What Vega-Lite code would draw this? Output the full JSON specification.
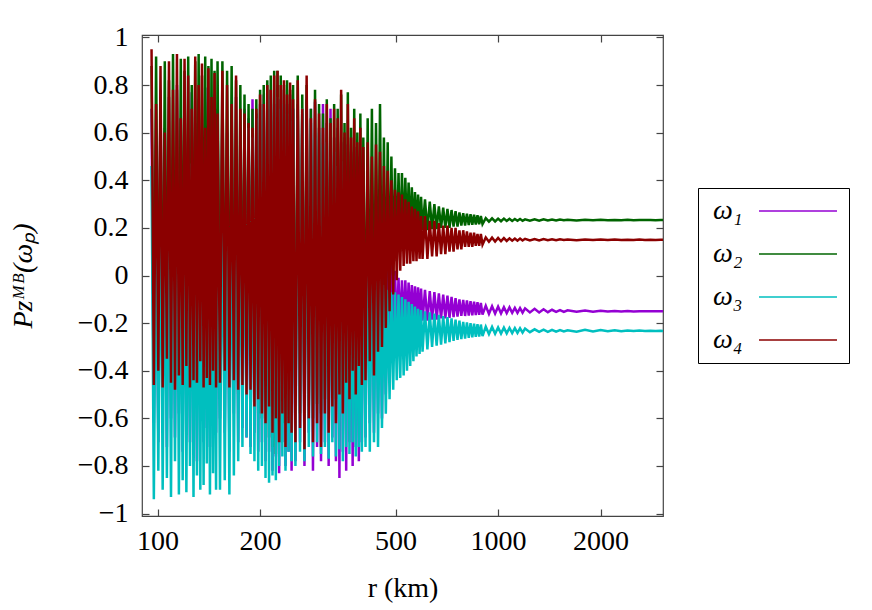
{
"$schema": "https://vega.github.io/schema/vega-lite/v6.json",
"width": 521, "height": 481,
"autosize": {"type": "none"},
"padding": {"left": 142, "top": 35, "right": 209, "bottom": 94},
"background": "white",
"config": {
  "font": "Liberation Serif",
  "view": {"stroke": "#444", "strokeWidth": 1.2},
  "axis": {"grid": false, "domain": false, "labelFont": "Liberation Serif", "labelFontSize": 28, "labelColor": "black", "tickColor": "#444", "tickWidth": 1.2, "titleFont": "Liberation Serif", "titleFontSize": 28, "titleFontWeight": "normal", "titleColor": "black"}
},
"datasets": {
"w1": [
{"r":96,"p":0.70},{"r":97.5,"p":-0.62},{"r":99,"p":0.55},{"r":100.5,"p":-0.70},{"r":102,"p":0.78},{"r":103.5,"p":-0.55},{"r":105,"p":0.62},{"r":106.5,"p":-0.72},{"r":108,"p":0.75},{"r":109.5,"p":-0.60},{"r":111,"p":0.50},{"r":112.5,"p":-0.68},{"r":114,"p":0.80},{"r":115.5,"p":-0.58},{"r":117,"p":0.66},{"r":118.5,"p":-0.74},{"r":120,"p":0.72},{"r":121.5,"p":-0.62},{"r":123,"p":0.58},{"r":124.5,"p":-0.70},{"r":126,"p":0.77},{"r":127.5,"p":-0.56},{"r":129,"p":0.64},{"r":130.5,"p":-0.78},{"r":132,"p":0.74},{"r":133.5,"p":-0.60},{"r":135,"p":0.55},{"r":136.5,"p":-0.70},{"r":138,"p":0.79},{"r":139.5,"p":-0.64},{"r":141,"p":0.68},{"r":142.5,"p":-0.72},{"r":144,"p":0.60},{"r":145.5,"p":-0.58},{"r":147,"p":0.76},{"r":148.5,"p":-0.66},{"r":150,"p":0.70},
{"r":152.5,"p":-0.60},{"r":155,"p":0.72},{"r":157.5,"p":-0.66},{"r":160,"p":0.60},{"r":162.5,"p":-0.74},{"r":165,"p":0.68},{"r":167.5,"p":-0.58},{"r":170,"p":0.75},{"r":172.5,"p":-0.70},{"r":175,"p":0.62},{"r":177.5,"p":-0.64},{"r":180,"p":0.70},{"r":182.5,"p":-0.68},{"r":185,"p":0.66},{"r":187.5,"p":-0.72},{"r":190,"p":0.74},{"r":192.5,"p":-0.66},{"r":195,"p":0.68},{"r":197.5,"p":-0.74},{"r":200,"p":0.72},{"r":202.5,"p":-0.70},{"r":205,"p":0.76},{"r":207.5,"p":-0.78},{"r":210,"p":0.70},{"r":212.5,"p":-0.74},{"r":215,"p":0.78},{"r":217.5,"p":-0.82},{"r":220,"p":0.72},{"r":222.5,"p":-0.76},{"r":225,"p":0.80},{"r":227.5,"p":-0.83},{"r":230,"p":0.74},{"r":232.5,"p":-0.70},{"r":235,"p":0.78},{"r":237.5,"p":-0.80},{"r":240,"p":0.72},{"r":242.5,"p":-0.74},{"r":245,"p":0.76},{"r":247.5,"p":-0.82},{"r":250,"p":0.70},
{"r":254,"p":-0.78},{"r":258,"p":0.72},{"r":262,"p":-0.70},{"r":266,"p":0.68},{"r":270,"p":-0.80},{"r":274,"p":0.74},{"r":278,"p":-0.66},{"r":282,"p":0.70},{"r":286,"p":-0.82},{"r":290,"p":0.73},{"r":294,"p":-0.72},{"r":298,"p":0.62},{"r":302,"p":-0.78},{"r":306,"p":0.72},{"r":310,"p":-0.70},{"r":314,"p":0.64},{"r":318,"p":-0.80},{"r":322,"p":0.70},{"r":326,"p":-0.68},{"r":330,"p":0.58},{"r":334,"p":-0.78},{"r":338,"p":0.62},{"r":342,"p":-0.85},{"r":346,"p":0.56},{"r":350,"p":-0.74},{"r":354,"p":0.58},{"r":358,"p":-0.82},{"r":362,"p":0.55},{"r":366,"p":-0.70},{"r":370,"p":0.52},{"r":374,"p":-0.80},{"r":378,"p":0.54},{"r":382,"p":-0.72},{"r":386,"p":0.50},{"r":390,"p":-0.78},{"r":394,"p":0.46},{"r":398,"p":-0.70},{"r":402,"p":0.45},
{"r":408,"p":-0.68},{"r":414,"p":0.40},{"r":420,"p":-0.62},{"r":426,"p":0.34},{"r":432,"p":-0.66},{"r":438,"p":0.32},{"r":444,"p":-0.58},{"r":450,"p":0.28},{"r":456,"p":-0.60},{"r":462,"p":0.25},{"r":468,"p":-0.50},{"r":474,"p":0.20},{"r":480,"p":-0.40},{"r":486,"p":0.10},{"r":492,"p":-0.28},{"r":498,"p":0.02},{"r":504,"p":-0.25},{"r":510,"p":-0.01},{"r":516,"p":-0.23},{"r":522,"p":-0.02},{"r":528,"p":-0.22},{"r":534,"p":-0.02},{"r":540,"p":-0.21},{"r":546,"p":-0.03},{"r":552,"p":-0.20},{"r":558,"p":-0.04},{"r":564,"p":-0.20},{"r":570,"p":-0.045},{"r":576,"p":-0.195},{"r":582,"p":-0.05},{"r":588,"p":-0.19},{"r":594,"p":-0.055},{"r":600,"p":-0.19},
{"r":610,"p":-0.06},{"r":620,"p":-0.19},{"r":630,"p":-0.065},{"r":640,"p":-0.185},{"r":650,"p":-0.07},{"r":660,"p":-0.185},{"r":670,"p":-0.075},{"r":680,"p":-0.18},{"r":690,"p":-0.08},{"r":700,"p":-0.18},{"r":710,"p":-0.085},{"r":720,"p":-0.178},{"r":730,"p":-0.09},{"r":740,"p":-0.175},{"r":750,"p":-0.095},{"r":760,"p":-0.173},{"r":770,"p":-0.10},{"r":780,"p":-0.17},{"r":790,"p":-0.102},{"r":800,"p":-0.17},{"r":810,"p":-0.105},{"r":820,"p":-0.168},{"r":830,"p":-0.108},{"r":840,"p":-0.167},{"r":850,"p":-0.11},{"r":860,"p":-0.166},{"r":870,"p":-0.112},{"r":880,"p":-0.165},{"r":890,"p":-0.115},{"r":900,"p":-0.164},
{"r":920,"p":-0.127},{"r":940,"p":-0.161},{"r":960,"p":-0.129},{"r":980,"p":-0.16},{"r":1000,"p":-0.131},{"r":1020,"p":-0.159},{"r":1040,"p":-0.133},{"r":1060,"p":-0.158},{"r":1080,"p":-0.134},{"r":1100,"p":-0.157},{"r":1120,"p":-0.136},{"r":1140,"p":-0.157},{"r":1160,"p":-0.137},{"r":1180,"p":-0.156},{"r":1200,"p":-0.138},
{"r":1240,"p":-0.155},{"r":1280,"p":-0.14},{"r":1320,"p":-0.155},{"r":1360,"p":-0.142},{"r":1400,"p":-0.154},{"r":1440,"p":-0.144},{"r":1480,"p":-0.153},{"r":1520,"p":-0.145},{"r":1560,"p":-0.153},{"r":1600,"p":-0.146},
{"r":1700,"p":-0.152},{"r":1800,"p":-0.147},{"r":1900,"p":-0.152},{"r":2000,"p":-0.148},{"r":2100,"p":-0.151},{"r":2200,"p":-0.149},{"r":2300,"p":-0.151},{"r":2400,"p":-0.149},{"r":2500,"p":-0.151},{"r":2600,"p":-0.15},{"r":2700,"p":-0.15},{"r":2800,"p":-0.15},{"r":2900,"p":-0.15},{"r":3000,"p":-0.15},{"r":3050,"p":-0.15}
],
"w2": [
{"r":96,"p":0.88},{"r":97.5,"p":-0.44},{"r":99,"p":0.92},{"r":100.5,"p":-0.40},{"r":102,"p":0.75},{"r":103.5,"p":-0.46},{"r":105,"p":0.90},{"r":106.5,"p":-0.38},{"r":108,"p":0.82},{"r":109.5,"p":-0.45},{"r":111,"p":0.93},{"r":112.5,"p":-0.42},{"r":114,"p":0.78},{"r":115.5,"p":-0.47},{"r":117,"p":0.91},{"r":118.5,"p":-0.40},{"r":120,"p":0.86},{"r":121.5,"p":-0.45},{"r":123,"p":0.92},{"r":124.5,"p":-0.43},{"r":126,"p":0.80},{"r":127.5,"p":-0.46},{"r":129,"p":0.90},{"r":130.5,"p":-0.41},{"r":132,"p":0.93},{"r":133.5,"p":-0.47},{"r":135,"p":0.84},{"r":136.5,"p":-0.44},{"r":138,"p":0.92},{"r":139.5,"p":-0.40},{"r":141,"p":0.88},{"r":142.5,"p":-0.46},{"r":144,"p":0.91},{"r":145.5,"p":-0.42},{"r":147,"p":0.86},{"r":148.5,"p":-0.45},{"r":150,"p":0.90},
{"r":152.5,"p":-0.46},{"r":155,"p":0.90},{"r":157.5,"p":-0.42},{"r":160,"p":0.86},{"r":162.5,"p":-0.48},{"r":165,"p":0.88},{"r":167.5,"p":-0.45},{"r":170,"p":0.82},{"r":172.5,"p":-0.50},{"r":175,"p":0.80},{"r":177.5,"p":-0.47},{"r":180,"p":0.76},{"r":182.5,"p":-0.52},{"r":185,"p":0.72},{"r":187.5,"p":-0.50},{"r":190,"p":0.70},{"r":192.5,"p":-0.56},{"r":195,"p":0.74},{"r":197.5,"p":-0.58},{"r":200,"p":0.78},{"r":202.5,"p":-0.60},{"r":205,"p":0.80},{"r":207.5,"p":-0.64},{"r":210,"p":0.82},{"r":212.5,"p":-0.68},{"r":215,"p":0.84},{"r":217.5,"p":-0.72},{"r":220,"p":0.86},{"r":222.5,"p":-0.75},{"r":225,"p":0.86},{"r":227.5,"p":-0.70},{"r":230,"p":0.84},{"r":232.5,"p":-0.62},{"r":235,"p":0.80},{"r":237.5,"p":-0.66},{"r":240,"p":0.82},{"r":242.5,"p":-0.60},{"r":245,"p":0.78},{"r":247.5,"p":-0.64},{"r":250,"p":0.80},
{"r":254,"p":-0.62},{"r":258,"p":0.84},{"r":262,"p":-0.58},{"r":266,"p":0.76},{"r":270,"p":-0.64},{"r":274,"p":0.80},{"r":278,"p":-0.55},{"r":282,"p":0.70},{"r":286,"p":-0.60},{"r":290,"p":0.78},{"r":294,"p":-0.54},{"r":298,"p":0.72},{"r":302,"p":-0.58},{"r":306,"p":0.68},{"r":310,"p":-0.52},{"r":314,"p":0.74},{"r":318,"p":-0.56},{"r":322,"p":0.66},{"r":326,"p":-0.50},{"r":330,"p":0.72},{"r":334,"p":-0.52},{"r":338,"p":0.70},{"r":342,"p":-0.46},{"r":346,"p":0.76},{"r":350,"p":-0.50},{"r":354,"p":0.64},{"r":358,"p":-0.42},{"r":362,"p":0.77},{"r":366,"p":-0.46},{"r":370,"p":0.62},{"r":374,"p":-0.38},{"r":378,"p":0.70},{"r":382,"p":-0.44},{"r":386,"p":0.60},{"r":390,"p":-0.35},{"r":394,"p":0.68},{"r":398,"p":-0.40},{"r":402,"p":0.58},
{"r":408,"p":-0.38},{"r":414,"p":0.66},{"r":420,"p":-0.32},{"r":426,"p":0.70},{"r":432,"p":-0.30},{"r":438,"p":0.64},{"r":444,"p":-0.26},{"r":450,"p":0.72},{"r":456,"p":-0.22},{"r":462,"p":0.58},{"r":468,"p":-0.15},{"r":474,"p":0.56},{"r":480,"p":-0.08},{"r":486,"p":0.50},{"r":492,"p":0.0},{"r":498,"p":0.45},{"r":504,"p":0.06},{"r":510,"p":0.43},{"r":516,"p":0.10},{"r":522,"p":0.43},{"r":528,"p":0.13},{"r":534,"p":0.41},{"r":540,"p":0.15},{"r":546,"p":0.39},{"r":552,"p":0.16},{"r":558,"p":0.37},{"r":564,"p":0.17},{"r":570,"p":0.35},{"r":576,"p":0.18},{"r":582,"p":0.34},{"r":588,"p":0.18},{"r":594,"p":0.33},{"r":600,"p":0.19},
{"r":610,"p":0.32},{"r":620,"p":0.19},{"r":630,"p":0.31},{"r":640,"p":0.195},{"r":650,"p":0.30},{"r":660,"p":0.195},{"r":670,"p":0.29},{"r":680,"p":0.20},{"r":690,"p":0.285},{"r":700,"p":0.20},{"r":710,"p":0.28},{"r":720,"p":0.20},{"r":730,"p":0.275},{"r":740,"p":0.205},{"r":750,"p":0.27},{"r":760,"p":0.205},{"r":770,"p":0.265},{"r":780,"p":0.21},{"r":790,"p":0.262},{"r":800,"p":0.21},{"r":810,"p":0.26},{"r":820,"p":0.212},{"r":830,"p":0.257},{"r":840,"p":0.213},{"r":850,"p":0.255},{"r":860,"p":0.214},{"r":870,"p":0.253},{"r":880,"p":0.215},{"r":890,"p":0.25},{"r":900,"p":0.216},
{"r":920,"p":0.241},{"r":940,"p":0.226},{"r":960,"p":0.24},{"r":980,"p":0.227},{"r":1000,"p":0.239},{"r":1020,"p":0.228},{"r":1040,"p":0.239},{"r":1060,"p":0.229},{"r":1080,"p":0.238},{"r":1100,"p":0.229},{"r":1120,"p":0.237},{"r":1140,"p":0.23},{"r":1160,"p":0.237},{"r":1180,"p":0.23},{"r":1200,"p":0.236},
{"r":1240,"p":0.23},{"r":1280,"p":0.236},{"r":1320,"p":0.23},{"r":1360,"p":0.236},{"r":1400,"p":0.231},{"r":1440,"p":0.235},{"r":1480,"p":0.231},{"r":1520,"p":0.235},{"r":1560,"p":0.232},{"r":1600,"p":0.234},
{"r":1700,"p":0.231},{"r":1800,"p":0.234},{"r":1900,"p":0.232},{"r":2000,"p":0.234},{"r":2100,"p":0.232},{"r":2200,"p":0.233},{"r":2300,"p":0.232},{"r":2400,"p":0.234},{"r":2500,"p":0.232},{"r":2600,"p":0.233},{"r":2700,"p":0.233},{"r":2800,"p":0.233},{"r":2900,"p":0.232},{"r":3000,"p":0.233},{"r":3050,"p":0.233}
],
"w3": [
{"r":96,"p":0.46},{"r":97.5,"p":-0.94},{"r":99,"p":0.30},{"r":100.5,"p":-0.82},{"r":102,"p":0.44},{"r":103.5,"p":-0.90},{"r":105,"p":0.25},{"r":106.5,"p":-0.85},{"r":108,"p":0.40},{"r":109.5,"p":-0.93},{"r":111,"p":0.35},{"r":112.5,"p":-0.78},{"r":114,"p":0.45},{"r":115.5,"p":-0.92},{"r":117,"p":0.28},{"r":118.5,"p":-0.86},{"r":120,"p":0.42},{"r":121.5,"p":-0.91},{"r":123,"p":0.32},{"r":124.5,"p":-0.80},{"r":126,"p":0.47},{"r":127.5,"p":-0.93},{"r":129,"p":0.36},{"r":130.5,"p":-0.84},{"r":132,"p":0.43},{"r":133.5,"p":-0.90},{"r":135,"p":0.30},{"r":136.5,"p":-0.88},{"r":138,"p":0.45},{"r":139.5,"p":-0.79},{"r":141,"p":0.38},{"r":142.5,"p":-0.92},{"r":144,"p":0.44},{"r":145.5,"p":-0.83},{"r":147,"p":0.33},{"r":148.5,"p":-0.90},{"r":150,"p":0.42},
{"r":152.5,"p":-0.90},{"r":155,"p":0.44},{"r":157.5,"p":-0.86},{"r":160,"p":0.38},{"r":162.5,"p":-0.92},{"r":165,"p":0.46},{"r":167.5,"p":-0.84},{"r":170,"p":0.40},{"r":172.5,"p":-0.78},{"r":175,"p":0.48},{"r":177.5,"p":-0.72},{"r":180,"p":0.55},{"r":182.5,"p":-0.68},{"r":185,"p":0.62},{"r":187.5,"p":-0.75},{"r":190,"p":0.58},{"r":192.5,"p":-0.78},{"r":195,"p":0.66},{"r":197.5,"p":-0.82},{"r":200,"p":0.70},{"r":202.5,"p":-0.80},{"r":205,"p":0.72},{"r":207.5,"p":-0.85},{"r":210,"p":0.76},{"r":212.5,"p":-0.87},{"r":215,"p":0.74},{"r":217.5,"p":-0.84},{"r":220,"p":0.78},{"r":222.5,"p":-0.86},{"r":225,"p":0.75},{"r":227.5,"p":-0.80},{"r":230,"p":0.70},{"r":232.5,"p":-0.76},{"r":235,"p":0.72},{"r":237.5,"p":-0.82},{"r":240,"p":0.68},{"r":242.5,"p":-0.74},{"r":245,"p":0.65},{"r":247.5,"p":-0.78},{"r":250,"p":0.70},
{"r":254,"p":-0.80},{"r":258,"p":0.66},{"r":262,"p":-0.74},{"r":266,"p":0.70},{"r":270,"p":-0.78},{"r":274,"p":0.62},{"r":278,"p":-0.72},{"r":282,"p":0.64},{"r":286,"p":-0.76},{"r":290,"p":0.58},{"r":294,"p":-0.70},{"r":298,"p":0.60},{"r":302,"p":-0.75},{"r":306,"p":0.55},{"r":310,"p":-0.72},{"r":314,"p":0.56},{"r":318,"p":-0.77},{"r":322,"p":0.50},{"r":326,"p":-0.70},{"r":330,"p":0.52},{"r":334,"p":-0.76},{"r":338,"p":0.46},{"r":342,"p":-0.73},{"r":346,"p":0.48},{"r":350,"p":-0.78},{"r":354,"p":0.42},{"r":358,"p":-0.72},{"r":362,"p":0.40},{"r":366,"p":-0.75},{"r":370,"p":0.36},{"r":374,"p":-0.70},{"r":378,"p":0.32},{"r":382,"p":-0.76},{"r":386,"p":0.30},{"r":390,"p":-0.72},{"r":394,"p":0.26},{"r":398,"p":-0.74},{"r":402,"p":0.22},
{"r":408,"p":-0.72},{"r":414,"p":0.20},{"r":420,"p":-0.74},{"r":426,"p":0.14},{"r":432,"p":-0.70},{"r":438,"p":0.08},{"r":444,"p":-0.72},{"r":450,"p":0.02},{"r":456,"p":-0.64},{"r":462,"p":-0.04},{"r":468,"p":-0.58},{"r":474,"p":-0.06},{"r":480,"p":-0.52},{"r":486,"p":-0.07},{"r":492,"p":-0.48},{"r":498,"p":-0.07},{"r":504,"p":-0.44},{"r":510,"p":-0.08},{"r":516,"p":-0.43},{"r":522,"p":-0.09},{"r":528,"p":-0.42},{"r":534,"p":-0.10},{"r":540,"p":-0.40},{"r":546,"p":-0.11},{"r":552,"p":-0.38},{"r":558,"p":-0.12},{"r":564,"p":-0.36},{"r":570,"p":-0.13},{"r":576,"p":-0.34},{"r":582,"p":-0.14},{"r":588,"p":-0.33},{"r":594,"p":-0.145},{"r":600,"p":-0.32},
{"r":610,"p":-0.15},{"r":620,"p":-0.31},{"r":630,"p":-0.155},{"r":640,"p":-0.30},{"r":650,"p":-0.16},{"r":660,"p":-0.295},{"r":670,"p":-0.165},{"r":680,"p":-0.29},{"r":690,"p":-0.17},{"r":700,"p":-0.285},{"r":710,"p":-0.175},{"r":720,"p":-0.28},{"r":730,"p":-0.18},{"r":740,"p":-0.275},{"r":750,"p":-0.185},{"r":760,"p":-0.27},{"r":770,"p":-0.19},{"r":780,"p":-0.267},{"r":790,"p":-0.195},{"r":800,"p":-0.265},{"r":810,"p":-0.197},{"r":820,"p":-0.262},{"r":830,"p":-0.2},{"r":840,"p":-0.26},{"r":850,"p":-0.202},{"r":860,"p":-0.258},{"r":870,"p":-0.204},{"r":880,"p":-0.256},{"r":890,"p":-0.206},{"r":900,"p":-0.254},
{"r":920,"p":-0.215},{"r":940,"p":-0.246},{"r":960,"p":-0.216},{"r":980,"p":-0.245},{"r":1000,"p":-0.218},{"r":1020,"p":-0.244},{"r":1040,"p":-0.219},{"r":1060,"p":-0.243},{"r":1080,"p":-0.22},{"r":1100,"p":-0.242},{"r":1120,"p":-0.221},{"r":1140,"p":-0.241},{"r":1160,"p":-0.222},{"r":1180,"p":-0.24},{"r":1200,"p":-0.223},
{"r":1240,"p":-0.238},{"r":1280,"p":-0.226},{"r":1320,"p":-0.237},{"r":1360,"p":-0.227},{"r":1400,"p":-0.237},{"r":1440,"p":-0.228},{"r":1480,"p":-0.236},{"r":1520,"p":-0.229},{"r":1560,"p":-0.235},{"r":1600,"p":-0.23},
{"r":1700,"p":-0.236},{"r":1800,"p":-0.228},{"r":1900,"p":-0.235},{"r":2000,"p":-0.229},{"r":2100,"p":-0.234},{"r":2200,"p":-0.23},{"r":2300,"p":-0.234},{"r":2400,"p":-0.231},{"r":2500,"p":-0.233},{"r":2600,"p":-0.231},{"r":2700,"p":-0.233},{"r":2800,"p":-0.232},{"r":2900,"p":-0.233},{"r":3000,"p":-0.232},{"r":3050,"p":-0.233}
],
"w4": [
{"r":96,"p":0.95},{"r":97.5,"p":-0.46},{"r":99,"p":0.72},{"r":100.5,"p":-0.40},{"r":102,"p":0.88},{"r":103.5,"p":-0.47},{"r":105,"p":0.60},{"r":106.5,"p":-0.35},{"r":108,"p":0.90},{"r":109.5,"p":-0.45},{"r":111,"p":0.78},{"r":112.5,"p":-0.48},{"r":114,"p":0.93},{"r":115.5,"p":-0.42},{"r":117,"p":0.66},{"r":118.5,"p":-0.46},{"r":120,"p":0.91},{"r":121.5,"p":-0.38},{"r":123,"p":0.84},{"r":124.5,"p":-0.47},{"r":126,"p":0.70},{"r":127.5,"p":-0.44},{"r":129,"p":0.92},{"r":130.5,"p":-0.45},{"r":132,"p":0.80},{"r":133.5,"p":-0.36},{"r":135,"p":0.89},{"r":136.5,"p":-0.47},{"r":138,"p":0.62},{"r":139.5,"p":-0.43},{"r":141,"p":0.87},{"r":142.5,"p":-0.46},{"r":144,"p":0.75},{"r":145.5,"p":-0.40},{"r":147,"p":0.85},{"r":148.5,"p":-0.47},{"r":150,"p":0.68},
{"r":152.5,"p":-0.45},{"r":155,"p":0.86},{"r":157.5,"p":-0.40},{"r":160,"p":0.80},{"r":162.5,"p":-0.47},{"r":165,"p":0.72},{"r":167.5,"p":-0.44},{"r":170,"p":0.84},{"r":172.5,"p":-0.48},{"r":175,"p":0.70},{"r":177.5,"p":-0.46},{"r":180,"p":0.68},{"r":182.5,"p":-0.50},{"r":185,"p":0.64},{"r":187.5,"p":-0.48},{"r":190,"p":0.62},{"r":192.5,"p":-0.55},{"r":195,"p":0.70},{"r":197.5,"p":-0.52},{"r":200,"p":0.76},{"r":202.5,"p":-0.58},{"r":205,"p":0.72},{"r":207.5,"p":-0.62},{"r":210,"p":0.80},{"r":212.5,"p":-0.55},{"r":215,"p":0.78},{"r":217.5,"p":-0.66},{"r":220,"p":0.84},{"r":222.5,"p":-0.60},{"r":225,"p":0.86},{"r":227.5,"p":-0.70},{"r":230,"p":0.80},{"r":232.5,"p":-0.58},{"r":235,"p":0.82},{"r":237.5,"p":-0.72},{"r":240,"p":0.76},{"r":242.5,"p":-0.62},{"r":245,"p":0.81},{"r":247.5,"p":-0.66},{"r":250,"p":0.74},
{"r":254,"p":-0.70},{"r":258,"p":0.82},{"r":262,"p":-0.64},{"r":266,"p":0.70},{"r":270,"p":-0.73},{"r":274,"p":0.84},{"r":278,"p":-0.60},{"r":282,"p":0.66},{"r":286,"p":-0.70},{"r":290,"p":0.74},{"r":294,"p":-0.62},{"r":298,"p":0.68},{"r":302,"p":-0.72},{"r":306,"p":0.62},{"r":310,"p":-0.58},{"r":314,"p":0.72},{"r":318,"p":-0.66},{"r":322,"p":0.64},{"r":326,"p":-0.55},{"r":330,"p":0.70},{"r":334,"p":-0.62},{"r":338,"p":0.66},{"r":342,"p":-0.50},{"r":346,"p":0.78},{"r":350,"p":-0.58},{"r":354,"p":0.60},{"r":358,"p":-0.45},{"r":362,"p":0.72},{"r":366,"p":-0.52},{"r":370,"p":0.58},{"r":374,"p":-0.40},{"r":378,"p":0.66},{"r":382,"p":-0.50},{"r":386,"p":0.56},{"r":390,"p":-0.38},{"r":394,"p":0.62},{"r":398,"p":-0.46},{"r":402,"p":0.54},
{"r":408,"p":-0.44},{"r":414,"p":0.56},{"r":420,"p":-0.36},{"r":426,"p":0.50},{"r":432,"p":-0.42},{"r":438,"p":0.55},{"r":444,"p":-0.32},{"r":450,"p":0.52},{"r":456,"p":-0.30},{"r":462,"p":0.46},{"r":468,"p":-0.22},{"r":474,"p":0.44},{"r":480,"p":-0.15},{"r":486,"p":0.40},{"r":492,"p":-0.08},{"r":498,"p":0.36},{"r":504,"p":-0.02},{"r":510,"p":0.35},{"r":516,"p":0.02},{"r":522,"p":0.34},{"r":528,"p":0.04},{"r":534,"p":0.32},{"r":540,"p":0.05},{"r":546,"p":0.31},{"r":552,"p":0.05},{"r":558,"p":0.29},{"r":564,"p":0.06},{"r":570,"p":0.28},{"r":576,"p":0.06},{"r":582,"p":0.27},{"r":588,"p":0.07},{"r":594,"p":0.25},{"r":600,"p":0.07},
{"r":610,"p":0.25},{"r":620,"p":0.07},{"r":630,"p":0.23},{"r":640,"p":0.08},{"r":650,"p":0.23},{"r":660,"p":0.08},{"r":670,"p":0.22},{"r":680,"p":0.09},{"r":690,"p":0.21},{"r":700,"p":0.09},{"r":710,"p":0.21},{"r":720,"p":0.10},{"r":730,"p":0.20},{"r":740,"p":0.10},{"r":750,"p":0.20},{"r":760,"p":0.11},{"r":770,"p":0.19},{"r":780,"p":0.11},{"r":790,"p":0.19},{"r":800,"p":0.12},{"r":810,"p":0.185},{"r":820,"p":0.12},{"r":830,"p":0.18},{"r":840,"p":0.12},{"r":850,"p":0.18},{"r":860,"p":0.125},{"r":870,"p":0.175},{"r":880,"p":0.125},{"r":890,"p":0.175},{"r":900,"p":0.13},
{"r":920,"p":0.16},{"r":940,"p":0.142},{"r":960,"p":0.159},{"r":980,"p":0.143},{"r":1000,"p":0.158},{"r":1020,"p":0.144},{"r":1040,"p":0.157},{"r":1060,"p":0.145},{"r":1080,"p":0.156},{"r":1100,"p":0.146},{"r":1120,"p":0.155},{"r":1140,"p":0.146},{"r":1160,"p":0.155},{"r":1180,"p":0.147},{"r":1200,"p":0.154},
{"r":1240,"p":0.147},{"r":1280,"p":0.153},{"r":1320,"p":0.147},{"r":1360,"p":0.153},{"r":1400,"p":0.148},{"r":1440,"p":0.152},{"r":1480,"p":0.148},{"r":1520,"p":0.152},{"r":1560,"p":0.149},{"r":1600,"p":0.151},
{"r":1700,"p":0.148},{"r":1800,"p":0.151},{"r":1900,"p":0.149},{"r":2000,"p":0.151},{"r":2100,"p":0.149},{"r":2200,"p":0.151},{"r":2300,"p":0.149},{"r":2400,"p":0.15},{"r":2500,"p":0.149},{"r":2600,"p":0.151},{"r":2700,"p":0.149},{"r":2800,"p":0.15},{"r":2900,"p":0.149},{"r":3000,"p":0.15},{"r":3050,"p":0.15}
]
},
"resolve": {"axis": {"x": "independent", "y": "independent"}},
"layer": [
  {
    "data": {"name": "w1"},
    "mark": {"type": "line", "strokeWidth": 2.5, "clip": true},
    "encoding": {
      "x": {"field": "r", "type": "quantitative", "scale": {"type": "log", "domain": [90, 3050], "nice": false},
            "axis": {"orient": "bottom", "values": [100, 200, 500, 1000, 2000], "format": "d", "tickSize": -7, "labelPadding": 18, "title": "r (km)", "titlePadding": 19}},
      "y": {"field": "p", "type": "quantitative", "scale": {"domain": [-1.01, 1.01], "nice": false, "zero": false},
            "axis": {"orient": "left", "values": [-1, -0.8, -0.6, -0.4, -0.2, 0, 0.2, 0.4, 0.6, 0.8, 1], "format": ".1~f", "tickSize": -7, "labelPadding": 21, "title": "Pzᴹᴮ(ωₚ)", "titleFontStyle": "italic", "titlePadding": 40}},
      "color": {"datum": "ω₁", "type": "nominal",
                "scale": {"domain": ["ω₁", "ω₂", "ω₃", "ω₄"], "range": ["#9400d3", "#006400", "#00bfbf", "#8b0000"]},
                "legend": {"orient": "none", "legendX": 556, "legendY": 153, "title": null, "symbolType": "M-4,0L4,0", "symbolSize": 380, "symbolStrokeWidth": 1.3, "rowPadding": 15, "labelOffset": -99, "symbolOffset": 77, "labelFont": "Liberation Serif", "labelFontSize": 28, "labelFontStyle": "italic", "labelColor": "black", "padding": 9, "strokeColor": "black", "fillColor": "white", "cornerRadius": 0}}
    }
  },
  {
    "data": {"name": "w2"},
    "mark": {"type": "line", "strokeWidth": 2.5, "clip": true},
    "encoding": {
      "x": {"field": "r", "type": "quantitative", "axis": {"orient": "top", "values": [100, 200, 500, 1000, 2000], "labels": false, "tickSize": -7, "title": null}},
      "y": {"field": "p", "type": "quantitative", "axis": {"orient": "right", "values": [-1, -0.8, -0.6, -0.4, -0.2, 0, 0.2, 0.4, 0.6, 0.8, 1], "labels": false, "tickSize": -7, "title": null}},
      "color": {"datum": "ω₂", "type": "nominal"}
    }
  },
  {
    "data": {"name": "w3"},
    "mark": {"type": "line", "strokeWidth": 2.5, "clip": true},
    "encoding": {
      "x": {"field": "r", "type": "quantitative", "axis": null},
      "y": {"field": "p", "type": "quantitative", "axis": null},
      "color": {"datum": "ω₃", "type": "nominal"}
    }
  },
  {
    "data": {"name": "w4"},
    "mark": {"type": "line", "strokeWidth": 2.5, "clip": true},
    "encoding": {
      "x": {"field": "r", "type": "quantitative", "axis": null},
      "y": {"field": "p", "type": "quantitative", "axis": null},
      "color": {"datum": "ω₄", "type": "nominal"}
    }
  }
]
}
